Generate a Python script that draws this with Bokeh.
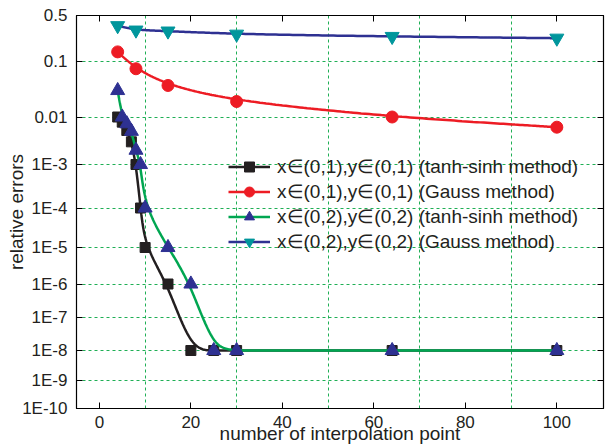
import numpy as np
from bokeh.plotting import figure
from bokeh.models import FixedTicker, LinearAxis, Range1d, Legend, LegendItem
from bokeh.embed import file_html
from bokeh.resources import INLINE

# ---------------- data ----------------
n_tanh = [4, 5, 6, 7, 8, 9, 10, 15, 20, 25, 30, 64, 100]
err_01_tanh = [1.0e-2, 7.8e-3, 5.2e-3, 3.0e-3, 1.0e-3, 1.0e-4, 1.0e-5, 1.0e-6,
               1.0e-8, 1.0e-8, 1.0e-8, 1.0e-8, 1.0e-8]
err_02_tanh = [3.0e-2, 1.0e-2, 7.2e-3, 5.0e-3, 2.0e-3, 1.0e-3, 1.0e-4, 1.0e-5,
               1.0e-6, 1.0e-8, 1.0e-8, 1.0e-8, 1.0e-8]
n_gauss = [4, 8, 15, 30, 64, 100]
err_01_gauss = [0.14, 0.074, 0.037, 0.019, 0.010, 0.0061]
err_02_gauss = [0.35, 0.30, 0.29, 0.26, 0.24, 0.226]

labels = [
    "x\u2208(0,1),y\u2208(0,1) (tanh-sinh method)",
    "x\u2208(0,1),y\u2208(0,1) (Gauss method)",
    "x\u2208(0,2),y\u2208(0,2) (tanh-sinh method)",
    "x\u2208(0,2),y\u2208(0,2) (Gauss method)",
]

y_tick_values = [0.5, 0.1, 1e-2, 1e-3, 1e-4, 1e-5, 1e-6, 1e-7, 1e-8, 1e-9, 1e-10]
y_tick_labels = ["0.5", "0.1", "0.01", "1E-3", "1E-4", "1E-5", "1E-6", "1E-7",
                 "1E-8", "1E-9", "1E-10"]
y_grid_values = [0.1, 1e-2, 1e-3, 1e-4, 1e-5, 1e-6, 1e-7, 1e-8, 1e-9]
x_tick_values = [0, 20, 40, 60, 80, 100]
x_grid_values = [10, 30, 50, 70, 90]

# ---------------- the chart's (non-uniform) error axis ----------------
# position of each labelled decade on the original axis (frame units, bottom = 0)
AXIS_LOG = np.log10(np.array(y_tick_values))[::-1]
AXIS_POS = np.array([393, 347, 291.5, 244, 200.5, 161, 124.5, 91, 58, 28, 0])[::-1]
X_PX = 4.574  # pixels per x unit, used only to shape the smooth connecting line


def ypos(v):
    return np.interp(np.log10(np.asarray(v, dtype=float)), AXIS_LOG, AXIS_POS)


def smooth(xv, yv, n_per=40):
    """clamped uniform cubic B-spline with the points as control points
    (the connecting line style of the original plot)"""
    P = np.column_stack([np.asarray(xv, float) * X_PX, np.asarray(yv, float)])
    C = np.vstack([P[0], P[0], P, P[-1], P[-1]])
    t = np.linspace(0, 1, n_per)[:, None]
    b0 = (1 - t) ** 3 / 6
    b1 = (3 * t**3 - 6 * t**2 + 4) / 6
    b2 = (-3 * t**3 + 3 * t**2 + 3 * t + 1) / 6
    b3 = t**3 / 6
    pts = []
    for i in range(len(C) - 3):
        pts.append(b0 * C[i] + b1 * C[i + 1] + b2 * C[i + 2] + b3 * C[i + 3])
    pts = np.vstack(pts)
    return list(pts[:, 0] / X_PX), list(pts[:, 1])


FONT = "Liberation Sans"
TXT = "#231F20"
GRID = "#1FAF55"

p = figure(width=605, height=448, output_backend="svg", toolbar_location=None,
           x_range=Range1d(-5, 110.2), y_range=Range1d(0, 393),
           min_border_left=76, min_border_right=2, min_border_top=15,
           min_border_bottom=40, background_fill_color="white",
           border_fill_color="white")
p.outline_line_color = "black"
p.outline_line_width = 1.2

# axes
p.xaxis.ticker = FixedTicker(ticks=x_tick_values)
p.yaxis.ticker = FixedTicker(ticks=list(ypos(y_tick_values)))
p.yaxis.major_label_overrides = {float(k): s for k, s in zip(ypos(y_tick_values), y_tick_labels)}
for ax in (p.xaxis[0], p.yaxis[0]):
    ax.major_tick_in = 6
    ax.major_tick_out = 0
    ax.minor_tick_line_color = None
    ax.axis_line_color = "black"
    ax.major_tick_line_color = "black"
    ax.major_label_text_font = FONT
    ax.major_label_text_font_size = "17px"
    ax.major_label_text_color = TXT
    ax.axis_label_text_font = FONT
    ax.axis_label_text_font_size = "19px"
    ax.axis_label_text_font_style = "normal"
    ax.axis_label_text_color = TXT
p.xaxis.major_label_standoff = 7
p.yaxis.major_label_standoff = 9
p.xaxis.axis_label = "number of interpolation point"
p.yaxis.axis_label = "relative errors"
p.xaxis.axis_label_standoff = -8
p.yaxis.axis_label_standoff = -8

top = LinearAxis(ticker=FixedTicker(ticks=x_tick_values))
right = LinearAxis(ticker=FixedTicker(ticks=list(ypos(y_grid_values))))
top.major_label_overrides = {float(t): "" for t in x_tick_values}
right.major_label_overrides = {float(t): "" for t in ypos(y_grid_values)}
for ax in (top, right):
    ax.major_tick_in = 6
    ax.major_tick_out = 0
    ax.minor_tick_line_color = None
    ax.major_label_standoff = 0
    ax.major_label_text_font_size = "1px"
    ax.axis_line_color = "black"
p.add_layout(top, "above")
p.add_layout(right, "right")

# grid
p.xgrid.ticker = FixedTicker(ticks=x_grid_values)
p.ygrid.ticker = FixedTicker(ticks=list(ypos(y_grid_values)))
for g in (p.xgrid[0], p.ygrid[0]):
    g.grid_line_color = GRID
    g.grid_line_dash = "3 3"
    g.grid_line_width = 1

# series
series = [
    (n_tanh, err_01_tanh, "#231F20", "square", "#231F20", 10),
    (n_gauss, err_01_gauss, "#ED1C24", "circle", "#ED1C24", 12),
    (n_tanh, err_02_tanh, "#00A651", "triangle", "#2E3192", 14),
    (n_gauss, err_02_gauss, "#2E3192", "inverted_triangle", "#00969C", 14),
]
items = []
for (xv, yv, lcol, mk, mcol, size), lab in zip(series, labels):
    xs, ys = smooth(xv, ypos(yv))
    lr = p.line(xs, ys, line_color=lcol, line_width=2.5)
    sr = p.scatter(xv, list(ypos(yv)), marker=mk, size=size, fill_color=mcol,
                   line_color=mcol)
    items.append(LegendItem(label=lab, renderers=[lr, sr]))

legend = Legend(items=items, location=(152, 154), padding=0, margin=0, spacing=0,
                glyph_width=42, glyph_height=25, label_height=25, label_standoff=7,
                label_text_font=FONT, label_text_font_size="19px",
                label_text_color=TXT, border_line_alpha=0, background_fill_alpha=0)
p.add_layout(legend)

open("out.html", "w").write(file_html(p, INLINE))
